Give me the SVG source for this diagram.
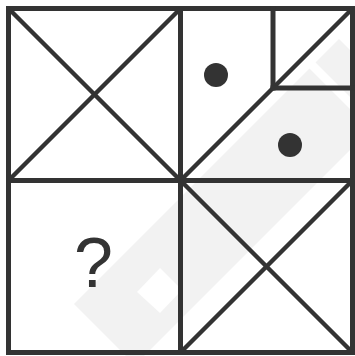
<svg xmlns="http://www.w3.org/2000/svg" width="355" height="356" viewBox="0 0 355 356">
<style>
.ln{stroke:#333333;stroke-width:5;fill:none;stroke-linecap:square}
.dg{stroke:#333333;stroke-width:4.5;fill:none}
.dot{fill:#333333}
.wm{fill:#f2f2f2}
.q{font-family:"Liberation Sans",Arial,sans-serif;font-size:70px;fill:#333333;text-anchor:middle}
</style>
<rect width="355" height="356" fill="#ffffff"/>
<g id="watermark">
<polygon class="wm" points="74,304 339,39 400,100 135,365"/>
<polygon fill="#ffffff" points="306,65 312,59 360,107 354,113"/>
<polygon fill="#ffffff" points="137,292 160,268 182,290 160,313"/>
</g>
<g id="frame">
<rect class="ln" x="8.5" y="8.5" width="344" height="344"/>
<line class="ln" x1="180.5" y1="8.5" x2="180.5" y2="352.5"/>
<line class="ln" x1="8.5" y1="180.5" x2="352.5" y2="180.5"/>
</g>
<g id="cell-top-left">
<line class="dg" x1="8.5" y1="8.5" x2="180.5" y2="180.5"/>
<line class="dg" x1="180.5" y1="8.5" x2="8.5" y2="180.5"/>
</g>
<g id="cell-top-right">
<line class="dg" x1="180.5" y1="180.5" x2="352.5" y2="8.5"/>
<line class="ln" x1="273" y1="8.5" x2="273" y2="88"/>
<line class="ln" x1="273" y1="88" x2="352.5" y2="88"/>
<circle class="dot" cx="216" cy="75" r="12"/>
<circle class="dot" cx="290" cy="145" r="12"/>
</g>
<g id="cell-bottom-left">
<text class="q" x="93.5" y="287">?</text>
</g>
<g id="cell-bottom-right">
<line class="dg" x1="180.5" y1="180.5" x2="352.5" y2="352.5"/>
<line class="dg" x1="352.5" y1="180.5" x2="180.5" y2="352.5"/>
</g>
</svg>
